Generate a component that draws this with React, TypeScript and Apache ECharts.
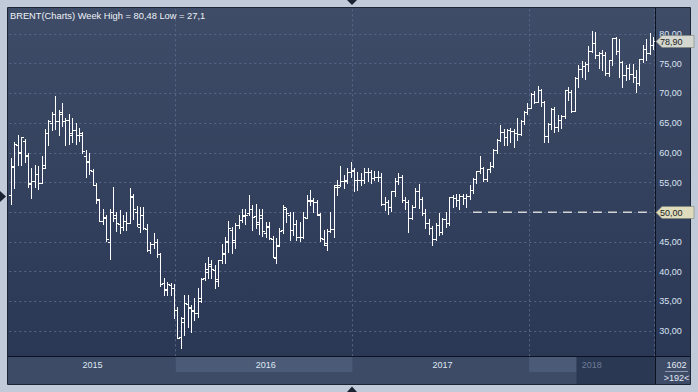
import React, { useEffect, useRef } from 'react';
import * as echarts from 'echarts';

// ---- data (weekly OHLC, Brent) ----
const opens = [
  52.9, 57.6, 61.3, 60.0, 62.0, 59.5, 55.0, 55.3, 56.4, 55.0, 57.5, 63.4, 65.0, 66.5, 65.3, 66.6, 65.3, 65.5, 63.0, 63.8,
  63.0, 63.0, 59.5, 58.5, 57.0, 54.6, 52.0, 48.5, 49.0, 45.0, 50.0, 49.0, 48.0, 47.5, 48.5, 48.2, 52.5, 50.0, 47.5, 49.5,
  47.2, 43.6, 44.6, 45.0, 43.0, 38.0, 37.0, 37.8, 37.3, 33.5, 29.0, 31.5, 34.5, 33.8, 33.5, 33.0, 35.5, 39.0, 40.0, 41.0,
  40.3, 38.5, 42.0, 43.0, 45.0, 47.0, 45.0, 47.8, 48.7, 49.5, 49.8, 50.5, 49.3, 48.0, 49.5, 46.5, 47.5, 45.5, 42.3, 44.5,
  47.0, 50.5, 49.5, 47.0, 48.0, 45.8, 45.8, 49.0, 52.0, 52.0, 51.7, 49.5, 45.5, 44.5, 46.8, 47.2, 54.2, 54.5, 55.2, 55.5,
  56.8, 57.0, 55.5, 55.4, 55.5, 56.8, 56.7, 55.8, 56.0, 55.9, 51.4, 51.8, 50.8, 53.5, 55.2, 55.9, 52.0, 51.7, 49.1, 50.8,
  53.6, 52.2, 49.9, 48.2, 47.4, 45.5, 47.9, 46.7, 48.9, 48.1, 52.5, 52.4, 52.1, 52.7, 52.4, 52.8, 53.8, 55.6, 56.9, 57.5,
  55.6, 57.2, 57.8, 60.4, 62.1, 63.5, 62.7, 63.9, 63.7, 63.4, 63.2, 65.3, 66.9, 67.6, 69.9, 68.6, 70.5, 68.6, 62.8, 64.8,
  67.3, 64.4, 65.5, 66.2, 70.5, 70.3, 67.1, 72.6, 74.1, 74.6, 74.9, 77.1, 78.5, 76.4, 76.8, 76.5, 73.4, 75.6, 79.4, 77.1,
  75.3, 73.1, 74.3, 73.2, 72.8, 71.8, 75.8, 77.4, 76.8, 78.1,
];
const highs = [
  59.1, 61.8, 63.0, 62.7, 62.4, 60.0, 57.5, 58.0, 57.8, 59.4, 64.0, 65.5, 66.8, 69.6, 67.2, 68.3, 65.8, 66.6, 65.8, 65.0,
  64.2, 63.5, 60.5, 60.0, 57.3, 55.0, 52.3, 50.5, 49.6, 50.5, 54.3, 50.0, 50.4, 49.5, 50.0, 54.0, 53.0, 51.0, 50.9, 50.9,
  48.0, 45.0, 46.5, 45.5, 43.2, 39.0, 38.3, 38.1, 37.9, 34.0, 32.3, 36.0, 36.0, 34.4, 35.5, 37.2, 38.9, 41.4, 42.5, 41.9,
  41.1, 42.0, 44.6, 45.9, 48.5, 47.5, 48.1, 49.5, 50.5, 50.5, 52.9, 51.2, 51.4, 50.6, 50.5, 48.4, 48.4, 46.0, 45.6, 47.3,
  51.2, 50.7, 50.1, 50.1, 48.7, 48.4, 50.1, 52.9, 53.8, 52.4, 52.1, 49.8, 47.0, 47.2, 50.1, 54.5, 55.5, 57.7, 56.3, 57.4,
  58.4, 57.4, 56.8, 56.6, 57.4, 57.4, 57.1, 57.0, 56.9, 56.6, 52.6, 52.1, 53.6, 55.8, 56.6, 56.2, 52.5, 52.1, 51.2, 54.0,
  54.7, 52.6, 50.6, 48.9, 47.7, 48.1, 49.8, 49.0, 50.1, 52.6, 52.9, 53.0, 53.0, 53.0, 53.0, 54.5, 55.7, 57.0, 59.5, 57.6,
  57.3, 58.5, 60.6, 62.3, 64.6, 64.0, 64.0, 64.2, 64.0, 65.8, 65.5, 67.0, 68.3, 70.1, 70.4, 71.3, 70.7, 68.8, 65.0, 67.6,
  67.7, 66.3, 66.3, 70.6, 71.1, 70.5, 72.7, 74.7, 75.5, 75.3, 78.0, 80.48, 80.4, 77.0, 77.3, 77.0, 75.6, 79.4, 79.5, 79.2,
  75.4, 74.7, 74.9, 74.9, 73.9, 75.8, 78.2, 79.2, 80.1, 79.5,
];
const lows = [
  51.3, 54.0, 58.0, 58.0, 58.5, 54.3, 52.4, 54.2, 53.9, 55.0, 57.4, 61.3, 63.8, 64.0, 63.0, 64.5, 61.3, 61.5, 61.8, 61.5,
  62.0, 60.0, 55.9, 56.5, 54.5, 51.5, 48.5, 48.0, 45.2, 42.2, 48.5, 46.8, 46.5, 47.0, 47.0, 48.2, 48.9, 47.6, 46.6, 47.2,
  43.4, 43.2, 43.9, 42.5, 37.5, 36.1, 36.0, 36.1, 32.2, 28.8, 27.1, 29.3, 30.7, 29.9, 31.8, 32.4, 34.9, 38.6, 38.9, 39.0,
  37.2, 37.5, 41.4, 41.5, 43.3, 43.2, 44.0, 47.3, 48.3, 48.0, 49.5, 47.0, 47.3, 46.4, 46.0, 45.9, 45.5, 42.4, 41.5, 44.3,
  46.5, 48.4, 45.3, 46.2, 45.3, 45.1, 45.6, 49.0, 51.2, 50.1, 49.6, 45.1, 44.5, 43.7, 46.7, 45.9, 52.9, 54.4, 54.0, 54.9,
  56.0, 53.6, 53.8, 54.6, 54.9, 55.2, 55.0, 55.5, 55.2, 51.2, 50.3, 49.7, 50.2, 52.8, 54.8, 51.8, 50.5, 46.7, 48.8, 50.8,
  50.7, 49.5, 47.3, 46.4, 44.4, 45.3, 46.1, 46.4, 47.5, 47.9, 50.9, 51.0, 50.5, 51.4, 50.9, 52.3, 53.3, 55.0, 56.6, 55.3,
  55.2, 56.7, 57.6, 59.9, 62.0, 61.3, 61.3, 61.8, 61.0, 62.2, 63.0, 64.9, 66.6, 67.5, 68.3, 68.5, 67.8, 61.8, 61.8, 64.0,
  63.5, 63.6, 64.1, 65.9, 68.9, 66.9, 67.1, 71.1, 72.8, 72.5, 73.7, 76.9, 75.9, 74.2, 73.9, 73.1, 72.9, 74.7, 76.6, 72.8,
  71.1, 72.2, 72.4, 71.9, 70.3, 71.4, 75.3, 75.6, 76.6, 77.5,
];
const closes = [
  57.8, 61.5, 60.2, 62.6, 59.7, 54.7, 55.3, 56.4, 54.9, 57.9, 63.4, 65.3, 66.5, 65.4, 66.8, 65.4, 65.6, 63.3, 63.9, 63.0,
  63.3, 60.3, 58.7, 57.1, 54.6, 52.2, 48.6, 49.2, 45.5, 50.1, 49.6, 48.1, 47.5, 48.6, 48.1, 52.7, 50.5, 48.0, 49.6, 47.4,
  43.6, 44.7, 45.0, 43.0, 37.9, 36.9, 37.9, 37.3, 33.6, 28.9, 32.2, 34.7, 34.1, 33.4, 33.0, 35.1, 38.7, 40.4, 41.2, 40.4,
  38.7, 41.9, 43.1, 45.1, 47.4, 45.4, 47.8, 48.7, 49.3, 49.6, 50.5, 49.2, 48.4, 49.0, 46.8, 47.6, 45.7, 42.5, 44.3, 46.9,
  50.9, 49.9, 47.0, 48.0, 45.8, 45.9, 49.2, 51.9, 51.9, 51.8, 49.7, 45.6, 44.8, 46.9, 47.2, 54.5, 54.3, 55.2, 55.2, 56.8,
  57.1, 55.5, 55.5, 55.5, 56.8, 56.7, 55.8, 56.0, 55.9, 51.4, 51.8, 50.8, 53.5, 55.2, 55.9, 52.0, 51.7, 49.1, 50.8, 53.6,
  52.2, 49.9, 48.2, 47.4, 45.5, 47.9, 46.7, 48.9, 48.1, 52.5, 52.4, 52.1, 52.7, 52.4, 52.8, 53.8, 55.6, 56.9, 57.5, 55.6,
  57.2, 57.8, 60.4, 62.1, 63.5, 62.7, 63.9, 63.7, 63.4, 63.2, 65.3, 66.9, 67.6, 69.9, 68.6, 70.5, 68.6, 62.8, 64.8, 67.3,
  64.4, 65.5, 66.2, 70.5, 70.3, 67.1, 72.6, 74.1, 74.6, 74.9, 77.1, 78.5, 76.4, 76.8, 76.5, 73.4, 75.6, 79.4, 77.1, 75.3,
  73.1, 74.3, 73.2, 72.8, 71.8, 75.8, 77.4, 76.8, 78.1, 78.9,
];
const firstWeek = [2015, 0, 26]; // Monday of the first weekly bar
const levelValue = 50;
const levelStartIndex = 136;
const titleText = 'BRENT(Charts) Week High = 80,48 Low = 27,1';
const footerTop = '1602';
const footerBottom = '>192<';

const FONT = 'Liberation Sans, Arial, sans-serif';

function buildWeeks(): string[] {
  const t0 = Date.UTC(firstWeek[0], firstWeek[1], firstWeek[2]);
  return opens.map((_, i) => new Date(t0 + i * 7 * 86400000).toISOString().slice(0, 10));
}

const fmt = (v: number) => v.toFixed(2).replace('.', ',');

export default function App() {
  const ref = useRef<HTMLDivElement>(null);
  useEffect(() => {
    if (!ref.current) return;
    const chart = echarts.init(ref.current, undefined, { renderer: 'svg' });
    const weeks = buildWeeks();
    const yearOf = weeks.map((w) => w.slice(0, 4));
    const yearStarts: number[] = [];
    yearOf.forEach((y, i) => { if (i > 0 && y !== yearOf[i - 1]) yearStarts.push(i); });
    const segStarts = [0, ...yearStarts];
    const segEnds = [...yearStarts.map((s) => s - 1), weeks.length - 1];
    const labelIdx = segStarts.map((s, k) => Math.round((s + segEnds[k]) / 2));
    const lastYear = yearOf[yearOf.length - 1];

    const ohlc = opens.map((o, i) => [i, o, highs[i], lows[i], closes[i]]);
    const level = [[levelStartIndex, levelValue], [weeks.length - 1, levelValue]];

    chart.setOption({
      animation: false,
      backgroundColor: '#c1cad8',
      grid: { left: 9.3, top: 4.3, width: 645.4, height: 356.4, containLabel: false },
      xAxis: [
        {
          type: 'category', data: weeks, boundaryGap: true, z: 10,
          axisLine: { show: false }, axisTick: { show: false }, splitLine: { show: false },
          axisLabel: {
            interval: (i: number) => labelIdx.includes(i),
            formatter: (v: string) => v.slice(0, 4),
            color: (v: string) => (v && v.slice(0, 4) === lastYear ? '#6c7c98' : '#dfe7f3'),
            fontSize: 9, fontFamily: FONT, margin: 4.5, verticalAlign: 'middle',
          },
        },
        {
          type: 'category', data: weeks, boundaryGap: true, z: 0,
          axisLine: { show: false }, axisTick: { show: false }, axisLabel: { show: false },
          splitLine: {
            show: true, interval: (i: number) => yearStarts.includes(i),
            lineStyle: { color: '#56678a', type: [2, 3], width: 1 },
          },
        },
      ],
      yAxis: {
        type: 'value', position: 'right', min: 25, max: 85, interval: 5, z: 0,
        axisLine: { show: false }, axisTick: { show: false },
        axisLabel: {
          formatter: (v: number) => (v <= 25 || v >= 85 ? '' : fmt(v)),
          color: '#d9e3f2', fontSize: 9, fontFamily: FONT, margin: 4.5,
        },
        splitLine: { show: true, lineStyle: { color: '#56678a', type: [2, 3], width: 1 } },
      },
      series: [
        {
          type: 'custom', name: 'BRENT', xAxisIndex: 0, z: 3,
          encode: { x: 0, y: [1, 2, 3, 4] },
          data: ohlc,
          renderItem: (params: any, api: any) => {
            const idx = api.value(0);
            const x = api.coord([idx, api.value(1)])[0];
            const yo = api.coord([idx, api.value(1)])[1];
            const yh = api.coord([idx, api.value(2)])[1];
            const yl = api.coord([idx, api.value(3)])[1];
            const yc = api.coord([idx, api.value(4)])[1];
            const cx = Math.round(x) + 0.5;
            const st = { stroke: '#ffffff', lineWidth: 1 };
            return {
              type: 'group',
              children: [
                { type: 'line', shape: { x1: cx, y1: Math.round(yh), x2: cx, y2: Math.round(yl) + 1 }, style: st },
                { type: 'line', shape: { x1: cx - 2.5, y1: Math.round(yo) + 0.5, x2: cx, y2: Math.round(yo) + 0.5 }, style: st },
                { type: 'line', shape: { x1: cx, y1: Math.round(yc) + 0.5, x2: cx + 2.5, y2: Math.round(yc) + 0.5 }, style: st },
              ],
            };
          },
        },
        {
          type: 'line', name: 'level', data: level, symbol: 'none', z: 4, silent: true,
          lineStyle: { color: '#d2d4d6', width: 1.6, type: [9, 6] },
        },
      ],
    });

    const px = (i: number) => chart.convertToPixel({ xAxisIndex: 0 }, i);
    const bandW = px(1) - px(0);
    const edge = (i: number) => px(i) - bandW / 2;
    const yLast = chart.convertToPixel({ yAxisIndex: 0 }, closes[closes.length - 1]);
    const yLevel = chart.convertToPixel({ yAxisIndex: 0 }, levelValue);

    const tag = (y: number, text: string, fill: string) => {
      const yy = Math.round(y) + 0.5;
      return [
        {
          type: 'polygon', z: 20,
          shape: { points: [[656, yy], [662, yy - 6], [694, yy - 6], [694, yy + 6], [662, yy + 6]] },
          style: { fill, stroke: '#7d8379', lineWidth: 0.6 },
        },
        {
          type: 'text', z: 21, x: 660, y: yy,
          style: { text, fill: '#1c1c1c', fontSize: 9, fontFamily: FONT, verticalAlign: 'middle', align: 'left' },
        },
      ];
    };

    const frame = '#c1cad8';
    const e2016 = edge(yearStarts[0]);
    const e2017 = edge(yearStarts[1]);
    const e2018 = edge(yearStarts[2]);

    chart.setOption({
      graphic: [
        // plot + axis panel background
        {
          type: 'rect', z: -1, shape: { x: 8, y: 8, width: 682, height: 348 },
          style: {
            fill: new echarts.graphic.LinearGradient(0, 0, 0, 1, [
              { offset: 0, color: '#3f4c67' },
              { offset: 1, color: '#2a3755' },
            ]),
          },
        },
        // masks (outer frame)
        { type: 'rect', z: 15, shape: { x: 0, y: 0, width: 698, height: 8 }, style: { fill: frame } },
        { type: 'rect', z: 15, shape: { x: 0, y: 0, width: 8, height: 392 }, style: { fill: frame } },
        { type: 'rect', z: 15, shape: { x: 690, y: 0, width: 8, height: 392 }, style: { fill: frame } },
        { type: 'rect', z: 15, shape: { x: 0, y: 384, width: 698, height: 8 }, style: { fill: frame } },
        // bottom band
        { type: 'rect', z: 5, shape: { x: 8, y: 356, width: 682, height: 28 }, style: { fill: '#3d4b67' } },
        { type: 'rect', z: 5, shape: { x: e2016, y: 357, width: e2017 - e2016, height: 15 }, style: { fill: '#4a5a77' } },
        { type: 'rect', z: 5, shape: { x: e2018, y: 357, width: edge(167) - e2018, height: 15 }, style: { fill: '#4a5a77' } },
        { type: 'rect', z: 5, shape: { x: edge(167), y: 357, width: 655 - edge(167), height: 27 }, style: { fill: '#2b3853' } },
        // borders / separators
        { type: 'rect', z: 16, shape: { x: 7.5, y: 7.5, width: 683, height: 377 }, style: { fill: 'none', stroke: '#1d2433', lineWidth: 1 } },
        { type: 'line', z: 16, shape: { x1: 655.5, y1: 8, x2: 655.5, y2: 384 }, style: { stroke: '#0b1221', lineWidth: 1 } },
        { type: 'line', z: 16, shape: { x1: 8, y1: 356.5, x2: 690, y2: 356.5 }, style: { stroke: '#0b1221', lineWidth: 1 } },
        // footer box
        { type: 'text', z: 17, x: 676.5, y: 365, style: { text: footerTop, fill: '#e2e9f4', fontSize: 9, fontFamily: FONT, align: 'center', verticalAlign: 'middle' } },
        { type: 'line', z: 17, shape: { x1: 665, y1: 371.5, x2: 688, y2: 371.5 }, style: { stroke: '#8e9bb2', lineWidth: 1 } },
        { type: 'text', z: 17, x: 676.5, y: 378, style: { text: footerBottom, fill: '#e2e9f4', fontSize: 9, fontFamily: FONT, align: 'center', verticalAlign: 'middle' } },
        // title
        { type: 'text', z: 17, x: 10, y: 15.5, style: { text: titleText, fill: '#eef2f8', fontSize: 9.3, fontFamily: FONT, verticalAlign: 'middle' } },
        // little navigation triangles
        { type: 'polygon', z: 17, shape: { points: [[0, 191], [6, 196.5], [0, 202]] }, style: { fill: '#1b2232' } },
        { type: 'polygon', z: 17, shape: { points: [[347, 0], [357, 0], [352, 5]] }, style: { fill: '#1b2232' } },
        { type: 'polygon', z: 17, shape: { points: [[347, 392], [357, 392], [352, 386.5]] }, style: { fill: '#1b2232' } },
        ...tag(yLevel, fmt(levelValue), '#dedcbd'),
        ...tag(yLast, fmt(closes[closes.length - 1]), '#d3d7cf'),
      ],
    });

    return () => chart.dispose();
  }, []);
  return <div ref={ref} style={{ position: 'fixed', left: 0, top: 0, width: 698, height: 392 }} />;
}
